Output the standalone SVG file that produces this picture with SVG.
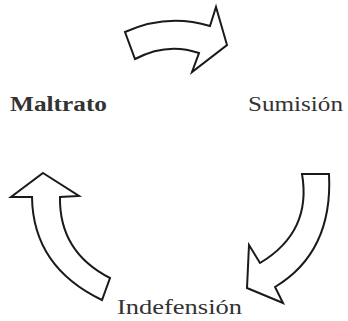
<svg xmlns="http://www.w3.org/2000/svg" width="348" height="321" viewBox="0 0 348 321">
<style>
.arr{fill:#fff;stroke:#1a1a1a;stroke-width:2;stroke-linejoin:miter}
text{font-family:'Liberation Serif','DejaVu Serif',serif;font-size:20px;fill:#333}
</style>
<rect width="348" height="321" fill="#fff"/>
<g id="connectors">
<path class="arr" d="M125,32 Q167,13 210,26 L216,7 L227,45 L192,72 L199,53 Q167,42 135,59 Z"/>
<path class="arr" d="M302,174 L329,174 Q333,252 275,287 L283,303 L247,288 L249,245 L260,263 Q312,232 302,174 Z"/>
<path class="arr" d="M43,173 L79,196 L60,197 Q59,252 110,278 L102,300 Q33,267 32,197 L11,197 Z"/>
</g>
<g id="maltrato"><text x="10" y="111" font-family="Liberation Serif, serif" font-weight="bold" textLength="97" lengthAdjust="spacingAndGlyphs">Maltrato</text></g>
<g id="sumision"><text x="248" y="111" font-family="Liberation Serif, serif" textLength="95" lengthAdjust="spacingAndGlyphs">Sumisión</text></g>
<g id="indefension"><text x="117" y="314" font-family="Liberation Serif, serif" textLength="125" lengthAdjust="spacingAndGlyphs">Indefensión</text></g>
</svg>
